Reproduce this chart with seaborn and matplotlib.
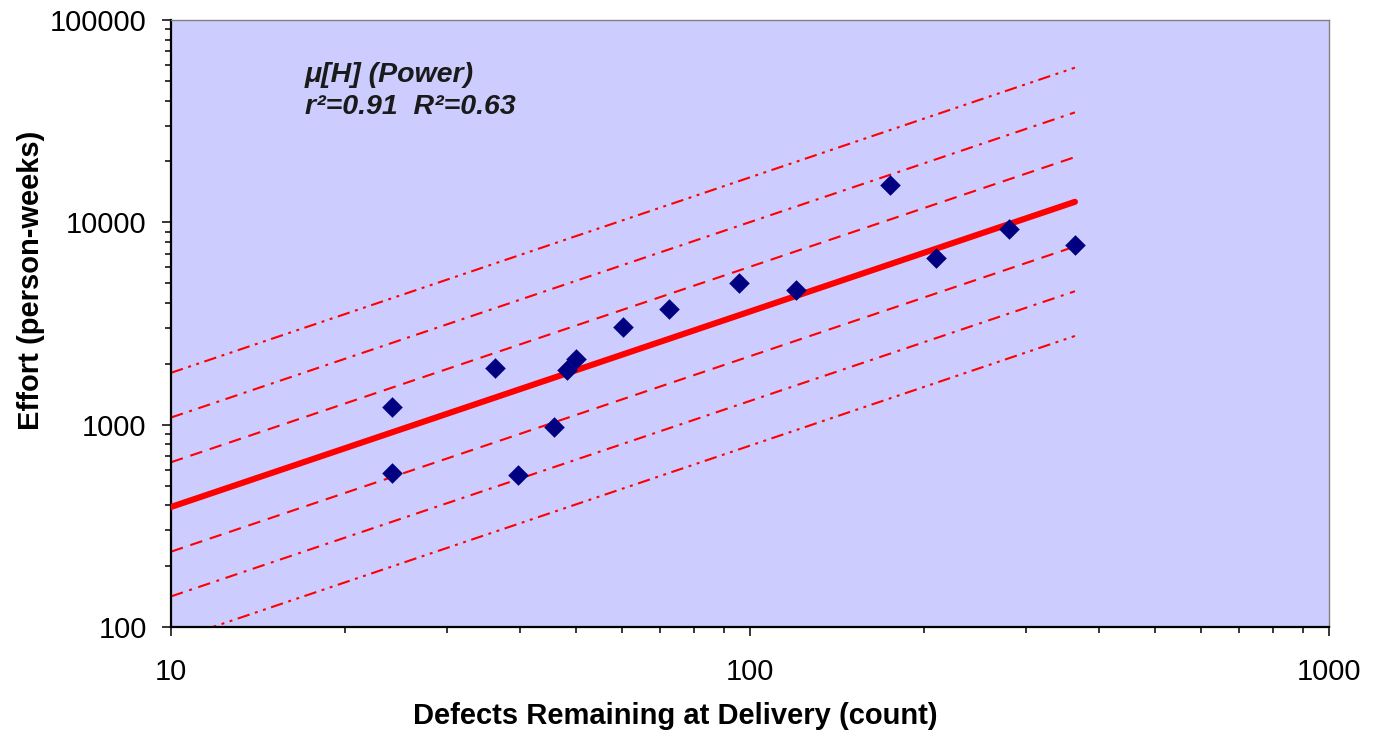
import numpy as np
import pandas as pd
import matplotlib
matplotlib.use("Agg")
import matplotlib.pyplot as plt
import seaborn as sns
from matplotlib.ticker import LogLocator, NullFormatter, FixedLocator, FixedFormatter

# Observed projects: defects remaining at delivery vs. effort
defects = [24.1, 24.1, 36.3, 39.7, 45.9, 48.3, 50.0, 60.4, 72.5,
           95.7, 120.2, 174.4, 209.2, 280.6, 364.1]
effort = [1216, 578, 1903, 567, 969, 1860, 2108, 3035, 3726,
          4993, 4626, 15290, 6682, 9235, 7696]

# Power-law fit  effort = a * (defects / 10) ** b  and log10 scatter of residuals
fit_a = 392.0
fit_b = 0.966
log_sd = 0.221
band_multiples = [1, 2, 3]

x_ticks = [10, 100, 1000]
y_ticks = [100, 1000, 10000, 100000]
annotation = ["\u03bc[H] (Power)", "r\u00b2=0.91  R\u00b2=0.63"]
xlabel = "Defects Remaining at Delivery (count)"
ylabel = "Effort (person-weeks)"

sns.set_theme(style="ticks")
plt.rcParams["font.family"] = ["Liberation Sans", "DejaVu Sans"]

fig = plt.figure(figsize=(13.8, 7.3), dpi=100)
fig.patch.set_facecolor("white")
ax = fig.add_axes([171 / 1380, 1 - 627 / 730, (1329 - 171) / 1380, (627 - 20) / 730])
ax.set_facecolor("#CCCCFF")
ax.set_xscale("log")
ax.set_yscale("log")

# fitted curve and scatter bands
x_fit = np.geomspace(10, max(defects), 60)
y_fit = fit_a * (x_fit / 10) ** fit_b
fit_df = pd.DataFrame({"x": x_fit, "y": y_fit})

styles = {
    1: (0, (6, 3.8)),
    2: (0, (6, 3.2, 1.4, 3.2)),
    3: (0, (6, 2.7, 1.4, 2.7, 1.4, 2.7)),
}
for k in band_multiples:
    for sign in (1, -1):
        band = pd.DataFrame({"x": x_fit, "y": y_fit * 10 ** (sign * k * log_sd)})
        sns.lineplot(data=band, x="x", y="y", ax=ax, color="#FF0000",
                     linewidth=1.5, linestyle=styles[k], estimator=None,
                     sort=False, zorder=2)

sns.lineplot(data=fit_df, x="x", y="y", ax=ax, color="#FF0000", linewidth=4.4,
             estimator=None, sort=False, solid_capstyle="round", zorder=3)

pts = pd.DataFrame({"defects": defects, "effort": effort})
sns.scatterplot(data=pts, x="defects", y="effort", ax=ax, marker="D", s=110,
                color="#000080", linewidth=0, zorder=4)

ax.set_xlim(10, 1000)
ax.set_ylim(100, 100000)

ax.xaxis.set_major_locator(FixedLocator(x_ticks))
ax.xaxis.set_major_formatter(FixedFormatter([str(v) for v in x_ticks]))
ax.yaxis.set_major_locator(FixedLocator(y_ticks))
ax.yaxis.set_major_formatter(FixedFormatter([str(v) for v in y_ticks]))
ax.xaxis.set_minor_locator(LogLocator(base=10, subs=np.arange(2, 10)))
ax.yaxis.set_minor_locator(LogLocator(base=10, subs=np.arange(2, 10)))
ax.xaxis.set_minor_formatter(NullFormatter())
ax.yaxis.set_minor_formatter(NullFormatter())

ax.tick_params(axis="both", which="major", direction="out", length=6.5, width=1.1,
               color="black", labelsize=21, labelcolor="black")
ax.tick_params(axis="both", which="minor", direction="out", length=4.5, width=1.1,
               color="black")
ax.tick_params(axis="x", which="major", pad=16)
ax.tick_params(axis="y", which="major", pad=11)

for side in ("left", "bottom"):
    ax.spines[side].set_color("black")
    ax.spines[side].set_linewidth(1.6)
for side in ("top", "right"):
    ax.spines[side].set_visible(True)
    ax.spines[side].set_color("#808080")
    ax.spines[side].set_linewidth(1.0)

ax.set_xlabel(xlabel, fontsize=21, fontweight="bold", color="black")
ax.set_ylabel(ylabel, fontsize=21, fontweight="bold", color="black")
ax.xaxis.set_label_coords((675 - 171) / 1158, -(702 - 627) / 607)
ax.yaxis.set_label_coords(-(171 - 45) / 1158, 1 - (280 - 20) / 607)

ax.text((305 - 171) / 1158, 1 - (75 - 20) / 607, annotation[0], transform=ax.transAxes,
        fontsize=20.5, fontweight="bold", fontstyle="italic", va="center", ha="left",
        color="#1a1a1a")
ax.text((305 - 171) / 1158, 1 - (107 - 20) / 607, annotation[1], transform=ax.transAxes,
        fontsize=20.5, fontweight="bold", fontstyle="italic", va="center", ha="left",
        color="#1a1a1a")

fig.savefig("out.png", dpi=100)
